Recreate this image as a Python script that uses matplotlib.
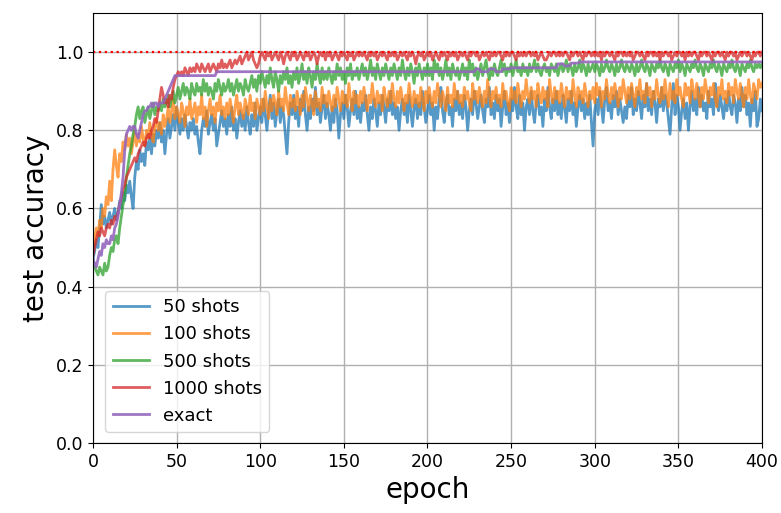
import numpy as np
import matplotlib
matplotlib.use("Agg")
import matplotlib.pyplot as plt

labels = ["50 shots", "100 shots", "500 shots", "1000 shots", "exact"]
colors = ["tab:blue", "tab:orange", "tab:green", "tab:red", "tab:purple"]

acc_50 = [
0.47, 0.49, 0.52, 0.50, 0.55, 0.61, 0.56, 0.58, 0.55, 0.57, 0.59, 0.56, 0.58, 0.60, 0.57, 0.59, 0.62, 0.60, 0.64, 0.62,
0.66, 0.64, 0.67, 0.63, 0.60, 0.68, 0.72, 0.70, 0.75, 0.72, 0.74, 0.71, 0.77, 0.75, 0.78, 0.74, 0.79, 0.76, 0.80, 0.78,
0.82, 0.77, 0.80, 0.74, 0.79, 0.83, 0.78, 0.81, 0.84, 0.80, 0.86, 0.82, 0.79, 0.83, 0.80, 0.84, 0.81, 0.78, 0.82, 0.80,
0.83, 0.79, 0.81, 0.77, 0.74, 0.80, 0.83, 0.81, 0.85, 0.79, 0.82, 0.84, 0.80, 0.83, 0.76, 0.79, 0.82, 0.85, 0.81, 0.83,
0.79, 0.84, 0.81, 0.86, 0.80, 0.83, 0.78, 0.82, 0.85, 0.81, 0.84, 0.80, 0.86, 0.82, 0.79, 0.84, 0.81, 0.87, 0.80, 0.83,
0.86, 0.82, 0.88, 0.84, 0.80, 0.85, 0.89, 0.83, 0.87, 0.81, 0.85, 0.88, 0.82, 0.86, 0.84, 0.79, 0.74, 0.82, 0.87, 0.84,
0.89, 0.83, 0.86, 0.81, 0.88, 0.85, 0.90, 0.84, 0.80, 0.86, 0.83, 0.88, 0.85, 0.91, 0.84, 0.87, 0.82, 0.86, 0.89, 0.83,
0.87, 0.84, 0.80, 0.86, 0.82, 0.88, 0.85, 0.78, 0.84, 0.87, 0.83, 0.89, 0.86, 0.81, 0.85, 0.88, 0.84, 0.90, 0.83, 0.86,
0.82, 0.87, 0.85, 0.89, 0.84, 0.80, 0.86, 0.83, 0.88, 0.85, 0.81, 0.87, 0.84, 0.89, 0.86, 0.82, 0.88, 0.85, 0.90, 0.84,
0.87, 0.83, 0.86, 0.80, 0.85, 0.88, 0.84, 0.87, 0.82, 0.89, 0.85, 0.81, 0.86, 0.88, 0.83, 0.87, 0.84, 0.90, 0.86, 0.82,
0.85, 0.89, 0.84, 0.87, 0.80, 0.86, 0.83, 0.88, 0.91, 0.85, 0.82, 0.87, 0.89, 0.84, 0.86, 0.81, 0.88, 0.85, 0.90, 0.84,
0.87, 0.83, 0.89, 0.86, 0.80, 0.85, 0.88, 0.84, 0.90, 0.87, 0.83, 0.86, 0.89, 0.85, 0.82, 0.88, 0.86, 0.91, 0.84, 0.87,
0.83, 0.89, 0.85, 0.88, 0.81, 0.86, 0.90, 0.84, 0.87, 0.82, 0.88, 0.85, 0.91, 0.86, 0.83, 0.89, 0.84, 0.87, 0.80, 0.86,
0.88, 0.84, 0.90, 0.85, 0.82, 0.87, 0.89, 0.84, 0.86, 0.81, 0.88, 0.85, 0.91, 0.86, 0.83, 0.88, 0.85, 0.90, 0.84, 0.87,
0.83, 0.89, 0.86, 0.82, 0.88, 0.85, 0.90, 0.84, 0.87, 0.81, 0.86, 0.89, 0.85, 0.88, 0.83, 0.87, 0.84, 0.89, 0.82, 0.76,
0.85, 0.88, 0.84, 0.90, 0.86, 0.82, 0.88, 0.91, 0.85, 0.87, 0.83, 0.89, 0.86, 0.90, 0.84, 0.88, 0.85, 0.82, 0.86, 0.83,
0.89, 0.86, 0.91, 0.84, 0.88, 0.85, 0.90, 0.87, 0.83, 0.89, 0.86, 0.92, 0.85, 0.88, 0.84, 0.90, 0.87, 0.82, 0.88, 0.86,
0.91, 0.85, 0.89, 0.87, 0.83, 0.79, 0.86, 0.92, 0.84, 0.89, 0.86, 0.80, 0.85, 0.88, 0.83, 0.87, 0.80, 0.86, 0.90, 0.85,
0.88, 0.84, 0.91, 0.86, 0.89, 0.85, 0.87, 0.83, 0.90, 0.86, 0.88, 0.84, 0.92, 0.87, 0.85, 0.89, 0.86, 0.83, 0.88, 0.85,
0.90, 0.86, 0.84, 0.89, 0.87, 0.82, 0.88, 0.85, 0.91, 0.86, 0.89, 0.84, 0.87, 0.81, 0.88, 0.85, 0.90, 0.81, 0.83, 0.88,
0.85]

acc_100 = [
0.50, 0.52, 0.55, 0.53, 0.57, 0.55, 0.60, 0.58, 0.63, 0.61, 0.67, 0.62, 0.70, 0.75, 0.71, 0.68, 0.74, 0.72, 0.77, 0.75,
0.79, 0.76, 0.78, 0.74, 0.77, 0.80, 0.76, 0.79, 0.77, 0.81, 0.78, 0.76, 0.80, 0.78, 0.82, 0.79, 0.77, 0.81, 0.83, 0.80,
0.82, 0.79, 0.84, 0.81, 0.83, 0.86, 0.82, 0.85, 0.88, 0.83, 0.86, 0.84, 0.82, 0.87, 0.85, 0.81, 0.86, 0.84, 0.88, 0.83,
0.85, 0.87, 0.82, 0.86, 0.84, 0.89, 0.83, 0.86, 0.81, 0.85, 0.88, 0.84, 0.86, 0.82, 0.87, 0.85, 0.89, 0.84, 0.86, 0.83,
0.87, 0.84, 0.88, 0.85, 0.82, 0.86, 0.89, 0.84, 0.87, 0.85, 0.83, 0.88, 0.86, 0.84, 0.89, 0.85, 0.87, 0.83, 0.88, 0.86,
0.84, 0.88, 0.85, 0.90, 0.86, 0.83, 0.88, 0.85, 0.89, 0.87, 0.84, 0.90, 0.86, 0.88, 0.85, 0.91, 0.87, 0.84, 0.89, 0.86,
0.88, 0.85, 0.90, 0.87, 0.84, 0.89, 0.86, 0.91, 0.88, 0.85, 0.89, 0.87, 0.84, 0.90, 0.86, 0.88, 0.85, 0.91, 0.87, 0.89,
0.86, 0.90, 0.87, 0.85, 0.89, 0.86, 0.91, 0.88, 0.85, 0.90, 0.87, 0.89, 0.86, 0.92, 0.88, 0.85, 0.90, 0.87, 0.89, 0.86,
0.90, 0.87, 0.91, 0.88, 0.85, 0.89, 0.87, 0.92, 0.88, 0.86, 0.90, 0.87, 0.89, 0.85, 0.91, 0.88, 0.86, 0.90, 0.87, 0.92,
0.88, 0.86, 0.90, 0.87, 0.91, 0.88, 0.85, 0.89, 0.87, 0.92, 0.88, 0.86, 0.90, 0.87, 0.89, 0.86, 0.91, 0.88, 0.85, 0.90,
0.87, 0.91, 0.88, 0.86, 0.90, 0.87, 0.92, 0.89, 0.86, 0.90, 0.88, 0.85, 0.91, 0.87, 0.89, 0.86, 0.92, 0.88, 0.90, 0.87,
0.89, 0.86, 0.91, 0.88, 0.90, 0.87, 0.85, 0.92, 0.88, 0.90, 0.87, 0.91, 0.88, 0.86, 0.90, 0.87, 0.93, 0.89, 0.86, 0.90,
0.88, 0.91, 0.87, 0.89, 0.86, 0.92, 0.88, 0.90, 0.87, 0.85, 0.91, 0.88, 0.90, 0.87, 0.92, 0.89, 0.86, 0.90, 0.88, 0.93,
0.89, 0.87, 0.91, 0.88, 0.90, 0.86, 0.92, 0.89, 0.87, 0.91, 0.88, 0.90, 0.86, 0.93, 0.89, 0.87, 0.91, 0.88, 0.90, 0.87,
0.92, 0.89, 0.86, 0.91, 0.88, 0.90, 0.87, 0.93, 0.89, 0.86, 0.91, 0.88, 0.90, 0.87, 0.92, 0.89, 0.86, 0.90, 0.88, 0.91,
0.87, 0.92, 0.89, 0.91, 0.86, 0.90, 0.88, 0.93, 0.89, 0.87, 0.91, 0.88, 0.92, 0.89, 0.86, 0.91, 0.88, 0.93, 0.90, 0.87,
0.91, 0.88, 0.92, 0.89, 0.86, 0.91, 0.89, 0.93, 0.88, 0.90, 0.87, 0.92, 0.89, 0.91, 0.86, 0.90, 0.88, 0.93, 0.89, 0.87,
0.91, 0.88, 0.93, 0.89, 0.86, 0.92, 0.88, 0.90, 0.87, 0.93, 0.89, 0.91, 0.88, 0.86, 0.92, 0.89, 0.91, 0.87, 0.93, 0.90,
0.88, 0.92, 0.89, 0.86, 0.91, 0.88, 0.93, 0.90, 0.87, 0.91, 0.89, 0.92, 0.88, 0.86, 0.91, 0.89, 0.93, 0.88, 0.90, 0.87,
0.92, 0.89, 0.91, 0.87, 0.93, 0.90, 0.88, 0.92, 0.89, 0.86, 0.91, 0.88, 0.93, 0.89, 0.87, 0.92, 0.90, 0.88, 0.93, 0.91,
0.92]

acc_500 = [
0.47, 0.45, 0.44, 0.43, 0.45, 0.44, 0.43, 0.46, 0.44, 0.45, 0.48, 0.50, 0.49, 0.52, 0.53, 0.51, 0.55, 0.58, 0.61, 0.63,
0.68, 0.71, 0.74, 0.76, 0.79, 0.81, 0.84, 0.86, 0.83, 0.85, 0.86, 0.82, 0.84, 0.86, 0.83, 0.85, 0.87, 0.84, 0.86, 0.85,
0.87, 0.85, 0.88, 0.86, 0.87, 0.89, 0.86, 0.88, 0.90, 0.87, 0.89, 0.91, 0.88, 0.90, 0.92, 0.89, 0.91, 0.90, 0.88, 0.92,
0.90, 0.89, 0.92, 0.90, 0.91, 0.89, 0.93, 0.90, 0.92, 0.89, 0.91, 0.90, 0.88, 0.92, 0.90, 0.93, 0.91, 0.89, 0.92, 0.90,
0.91, 0.93, 0.90, 0.92, 0.89, 0.91, 0.93, 0.90, 0.92, 0.91, 0.89, 0.93, 0.91, 0.90, 0.92, 0.94, 0.91, 0.93, 0.90, 0.94,
0.92, 0.95, 0.93, 0.91, 0.94, 0.92, 0.96, 0.93, 0.91, 0.95, 0.93, 0.90, 0.94, 0.92, 0.95, 0.93, 0.96, 0.92, 0.94, 0.91,
0.95, 0.93, 0.96, 0.92, 0.94, 0.97, 0.93, 0.95, 0.92, 0.96, 0.94, 0.91, 0.95, 0.93, 0.97, 0.94, 0.92, 0.96, 0.93, 0.95,
0.93, 0.96, 0.94, 0.92, 0.95, 0.93, 0.97, 0.94, 0.96, 0.93, 0.95, 0.92, 0.96, 0.94, 0.97, 0.93, 0.95, 0.94, 0.96, 0.93,
0.95, 0.97, 0.94, 0.96, 0.93, 0.95, 0.98, 0.94, 0.96, 0.93, 0.97, 0.95, 0.93, 0.96, 0.94, 0.97, 0.95, 0.93, 0.96, 0.94,
0.97, 0.95, 0.93, 0.96, 0.94, 0.98, 0.95, 0.93, 0.96, 0.94, 0.97, 0.95, 0.92, 0.96, 0.94, 0.97, 0.95, 0.93, 0.96, 0.94,
0.97, 0.94, 0.96, 0.93, 0.98, 0.95, 0.97, 0.94, 0.96, 0.93, 0.95, 0.98, 0.94, 0.96, 0.93, 0.97, 0.95, 0.94, 0.96, 0.93,
0.95, 0.97, 0.94, 0.96, 0.93, 0.98, 0.95, 0.97, 0.94, 0.96, 0.93, 0.95, 0.97, 0.94, 0.96, 0.98, 0.95, 0.93, 0.96, 0.94,
0.97, 0.95, 0.94, 0.96, 0.98, 0.95, 0.97, 0.94, 0.96, 0.95, 0.97, 0.94, 0.96, 0.98, 0.95, 0.96, 0.94, 0.97, 0.95, 0.96,
0.94, 0.97, 0.95, 0.96, 0.98, 0.95, 0.97, 0.95, 0.94, 0.96, 0.97, 0.95, 0.96, 0.94, 0.97, 0.96, 0.95, 0.97, 0.94, 0.96,
0.97, 0.95, 0.96, 0.98, 0.95, 0.97, 0.96, 0.94, 0.97, 0.95, 0.96, 0.98, 0.95, 0.97, 0.96, 0.94, 0.97, 0.95, 0.96, 0.97,
0.95, 0.97, 0.96, 0.94, 0.97, 0.95, 0.96, 0.98, 0.96, 0.95, 0.97, 0.96, 0.94, 0.97, 0.95, 0.96, 0.98, 0.96, 0.95, 0.97,
0.96, 0.95, 0.97, 0.96, 0.94, 0.97, 0.95, 0.96, 0.98, 0.96, 0.95, 0.97, 0.96, 0.94, 0.97, 0.96, 0.95, 0.97, 0.96, 0.98,
0.96, 0.95, 0.97, 0.96, 0.94, 0.97, 0.96, 0.95, 0.97, 0.96, 0.98, 0.95, 0.97, 0.96, 0.94, 0.97, 0.96, 0.95, 0.97, 0.96,
0.98, 0.96, 0.95, 0.97, 0.96, 0.94, 0.97, 0.96, 0.95, 0.97, 0.96, 0.98, 0.96, 0.95, 0.97, 0.96, 0.94, 0.97, 0.96, 0.95,
0.97, 0.96, 0.98, 0.96, 0.95, 0.97, 0.96, 0.94, 0.97, 0.96, 0.95, 0.97, 0.96, 0.98, 0.96, 0.95, 0.97, 0.96, 0.97, 0.96,
0.97]

acc_1000 = [
0.48, 0.50, 0.52, 0.54, 0.53, 0.55, 0.54, 0.53, 0.55, 0.56, 0.55, 0.57, 0.56, 0.58, 0.57, 0.59, 0.61, 0.63, 0.65, 0.66,
0.68, 0.69, 0.70, 0.71, 0.72, 0.73, 0.72, 0.74, 0.75, 0.76, 0.77, 0.76, 0.78, 0.79, 0.78, 0.80, 0.81, 0.83, 0.82, 0.85,
0.88, 0.91, 0.89, 0.87, 0.88, 0.86, 0.89, 0.88, 0.91, 0.93, 0.94, 0.95, 0.94, 0.95, 0.94, 0.96, 0.95, 0.94, 0.96, 0.95,
0.96, 0.95, 0.97, 0.96, 0.95, 0.97, 0.96, 0.95, 0.96, 0.97, 0.95, 0.96, 0.97, 0.96, 0.95, 0.97, 0.96, 0.98, 0.96, 0.97,
0.96, 0.97, 0.98, 0.96, 0.97, 0.98, 0.97, 0.98, 0.99, 0.97, 0.98, 0.99, 1.00, 0.98, 0.99, 1.00, 0.98, 0.97, 0.96, 0.97,
0.99, 1.00, 0.99, 0.98, 1.00, 0.99, 1.00, 0.98, 0.99, 1.00, 0.99, 0.98, 1.00, 0.99, 0.97, 0.99, 1.00, 0.99, 0.98, 1.00,
0.99, 1.00, 0.98, 0.99, 1.00, 0.99, 0.98, 1.00, 0.99, 1.00, 0.98, 0.99, 1.00, 0.99, 0.97, 0.99, 1.00, 0.99, 1.00, 0.98,
1.00, 0.99, 1.00, 0.98, 0.99, 1.00, 0.99, 0.98, 1.00, 0.99, 1.00, 0.99, 0.98, 1.00, 0.99, 1.00, 0.98, 0.99, 1.00, 0.99,
1.00, 0.99, 1.00, 0.99, 0.98, 1.00, 0.99, 1.00, 0.99, 1.00, 0.98, 0.99, 1.00, 0.99, 1.00, 0.99, 0.98, 1.00, 0.99, 1.00,
0.99, 1.00, 0.98, 0.99, 1.00, 0.99, 1.00, 0.99, 0.98, 1.00, 0.99, 1.00, 0.99, 0.97, 0.99, 1.00, 0.99, 1.00, 0.98, 0.99,
1.00, 0.99, 1.00, 0.98, 0.99, 1.00, 0.99, 0.98, 1.00, 0.99, 1.00, 0.99, 0.98, 1.00, 0.99, 1.00, 0.99, 1.00, 0.98, 0.99,
1.00, 0.99, 1.00, 0.99, 0.98, 1.00, 0.99, 1.00, 1.00, 0.99, 1.00, 0.98, 0.99, 1.00, 0.99, 1.00, 0.99, 0.98, 1.00, 0.99,
1.00, 0.99, 1.00, 1.00, 0.99, 0.98, 1.00, 0.99, 1.00, 0.99, 1.00, 1.00, 0.99, 0.98, 1.00, 0.99, 1.00, 0.99, 1.00, 0.99,
1.00, 1.00, 0.99, 1.00, 0.99, 1.00, 0.98, 0.99, 1.00, 0.99, 0.98, 0.98, 0.99, 1.00, 0.99, 1.00, 1.00, 0.99, 1.00, 0.99,
1.00, 0.99, 1.00, 1.00, 0.99, 0.98, 1.00, 0.99, 1.00, 1.00, 0.99, 1.00, 0.99, 0.98, 1.00, 0.99, 1.00, 1.00, 0.99, 1.00,
0.99, 1.00, 0.99, 1.00, 0.98, 1.00, 0.99, 1.00, 1.00, 0.99, 1.00, 0.99, 0.98, 1.00, 0.99, 1.00, 1.00, 0.99, 1.00, 0.99,
1.00, 0.99, 1.00, 0.98, 0.99, 1.00, 1.00, 0.99, 1.00, 0.99, 0.98, 1.00, 0.99, 1.00, 1.00, 0.99, 1.00, 0.99, 1.00, 0.98,
1.00, 0.99, 1.00, 1.00, 0.99, 1.00, 0.98, 0.99, 1.00, 0.99, 1.00, 1.00, 0.99, 1.00, 0.98, 1.00, 0.99, 1.00, 0.99, 1.00,
1.00, 0.99, 0.98, 1.00, 0.99, 1.00, 1.00, 0.99, 1.00, 0.99, 0.98, 1.00, 0.99, 1.00, 1.00, 0.99, 1.00, 0.99, 0.98, 1.00,
0.99, 1.00, 1.00, 0.99, 1.00, 0.98, 0.99, 1.00, 0.99, 1.00, 1.00, 0.99, 1.00, 0.99, 0.98, 1.00, 0.99, 1.00, 1.00, 0.99,
1.00]

exact_epochs = [0, 1, 2, 3, 4, 5, 6, 7, 8, 9, 10, 11, 12, 13, 14, 15, 16, 17, 18, 19,
                20, 21, 22, 23, 24, 25, 26, 27, 28, 29, 30, 31, 32, 33, 34, 35, 36, 37, 38, 39,
                40, 41, 42, 43, 44, 45, 46, 47, 48, 49, 50,
                73, 74, 228, 229, 231, 232, 236, 237, 240, 241, 244, 245, 249, 250,
                277, 278, 281, 282, 285, 286, 290, 291, 400]
exact_vals = [0.47, 0.46, 0.45, 0.47, 0.49, 0.48, 0.51, 0.50, 0.52, 0.51, 0.51, 0.53, 0.52, 0.55, 0.56, 0.58, 0.61, 0.64, 0.68, 0.75,
              0.79, 0.80, 0.81, 0.80, 0.81, 0.81, 0.79, 0.78, 0.80, 0.82, 0.84, 0.85, 0.85, 0.86, 0.86, 0.87, 0.86, 0.87, 0.87, 0.86,
              0.87, 0.87, 0.87, 0.88, 0.89, 0.90, 0.91, 0.92, 0.93, 0.94, 0.94,
              0.94, 0.95, 0.95, 0.957, 0.957, 0.95, 0.95, 0.957, 0.957, 0.95, 0.95, 0.957, 0.957, 0.96,
              0.96, 0.97, 0.97, 0.965, 0.965, 0.972, 0.972, 0.975, 0.975]

series = [acc_50, acc_100, acc_500, acc_1000]

fig = plt.figure(figsize=(7.81, 5.13), dpi=100)
ax = fig.add_axes([0.119, 0.1365, 0.8567, 0.838])

for vals, lab, col in zip(series, labels[:4], colors[:4]):
    ax.plot(np.arange(len(vals)), vals, color=col, lw=2.0, alpha=0.75, label=lab)
ax.plot(exact_epochs, exact_vals, color=colors[4], lw=2.0, alpha=0.9, label=labels[4])

ax.axhline(1.0, color="red", linestyle=":", lw=1.6)

ax.set_xlim(0, 400)
ax.set_ylim(0, 1.1)
ax.set_xticks([0, 50, 100, 150, 200, 250, 300, 350, 400])
ax.set_yticks([0.0, 0.2, 0.4, 0.6, 0.8, 1.0])
ax.tick_params(labelsize=12.5)
ax.grid(True, color="#b0b0b0", lw=1)
ax.set_axisbelow(True)
ax.set_xlabel("epoch", fontsize=20)
ax.set_ylabel("test accuracy", fontsize=20)
ax.legend(loc="lower left", fontsize=13, bbox_to_anchor=(0.005, 0.005))

fig.savefig("out.png", dpi=100)
